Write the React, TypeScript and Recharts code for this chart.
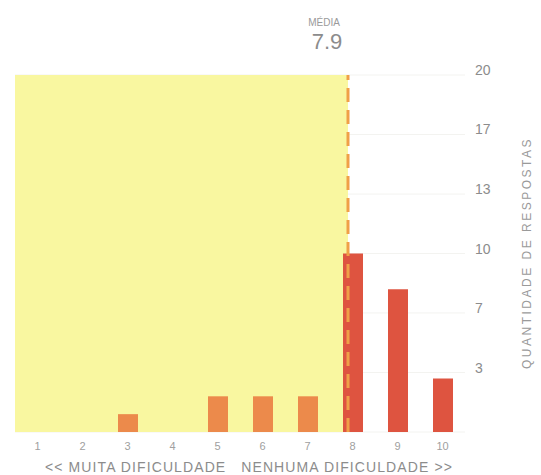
import { BarChart, Bar, Cell, XAxis, YAxis, CartesianGrid, ReferenceArea, ReferenceLine } from 'recharts'

const scores = [1, 2, 3, 4, 5, 6, 7, 8, 9, 10]
const answers = [0, 0, 1, 0, 2, 2, 2, 10, 8, 3]
const yTicks = [3.33, 6.67, 10, 13.33, 16.67, 20]
const mean = 7.9

const COLORS = {
  zone: '#f9f7a0',
  low: '#ec8a4b',
  high: '#de5440',
  meanLine: '#f0a048',
  text: '#8c8c8c',
}

const data = scores.map((score, i) => ({ score, count: answers[i] }))

const XTick = ({ x, y, payload }: any) => (
  <text x={x} y={y + 18} textAnchor="middle" fontSize={11} fill="#a0a0a0">
    {payload.value}
  </text>
)

const YTick = ({ x, y, payload }: any) => (
  <text x={x} y={y} textAnchor="start" fontSize={14} fill={COLORS.text}>
    {Math.round(payload.value)}
  </text>
)

// média label sits just left of the dashed line
const MeanLabel = ({ viewBox }: any) => (
  <g>
    <text x={viewBox.x - 24} y={26} textAnchor="middle" fontSize={10} fill="#9a9a9a">
      MÉDIA
    </text>
    <text x={viewBox.x - 21} y={49} textAnchor="middle" fontSize={22} fill={COLORS.text}>
      {mean}
    </text>
  </g>
)

const Caption = () => (
  <text
    x={249}
    y={472}
    textAnchor="middle"
    fontSize={14}
    letterSpacing={1.1}
    fill={COLORS.text}
    style={{ whiteSpace: 'pre' }}
  >
    {'<< MUITA DIFICULDADE   NENHUMA DIFICULDADE >>'}
  </text>
)

const SideLabel = () => (
  <text
    x={531}
    y={253}
    transform="rotate(-90 531 253)"
    textAnchor="middle"
    fontSize={12}
    letterSpacing={2.5}
    fill="#9a9a9a"
  >
    QUANTIDADE DE RESPOSTAS
  </text>
)

export default function App() {
  return (
    <div style={{ position: 'absolute', left: 0, top: 0, background: '#fff', fontFamily: 'Liberation Sans, Arial, sans-serif' }}>
      <BarChart width={541} height={475} data={data} margin={{ top: 75, right: 16, bottom: 0, left: 15 }}>
        <CartesianGrid horizontal vertical={false} stroke="#f3f3f0" />
        <ReferenceArea x1={0.5} x2={mean} y1={0} y2={20} fill={COLORS.zone} fillOpacity={1} stroke="none" />
        <XAxis
          dataKey="score"
          type="number"
          domain={[0.5, 10.5]}
          ticks={scores}
          height={43}
          tickSize={0}
          tickMargin={0}
          axisLine={false}
          tick={<XTick />}
          label={<Caption />}
        />
        <YAxis
          orientation="right"
          domain={[0, 20]}
          ticks={yTicks}
          width={60}
          tickSize={0}
          tickMargin={10}
          axisLine={false}
          tick={<YTick />}
          label={<SideLabel />}
        />
        <Bar dataKey="count" barSize={20} isAnimationActive={false}>
          {data.map((d, i) => (
            <Cell key={i} fill={d.score < mean ? COLORS.low : COLORS.high} />
          ))}
        </Bar>
        <ReferenceLine
          x={mean}
          stroke={COLORS.meanLine}
          strokeWidth={3}
          strokeDasharray="14 8"
          label={<MeanLabel />}
        />
      </BarChart>
    </div>
  )
}
